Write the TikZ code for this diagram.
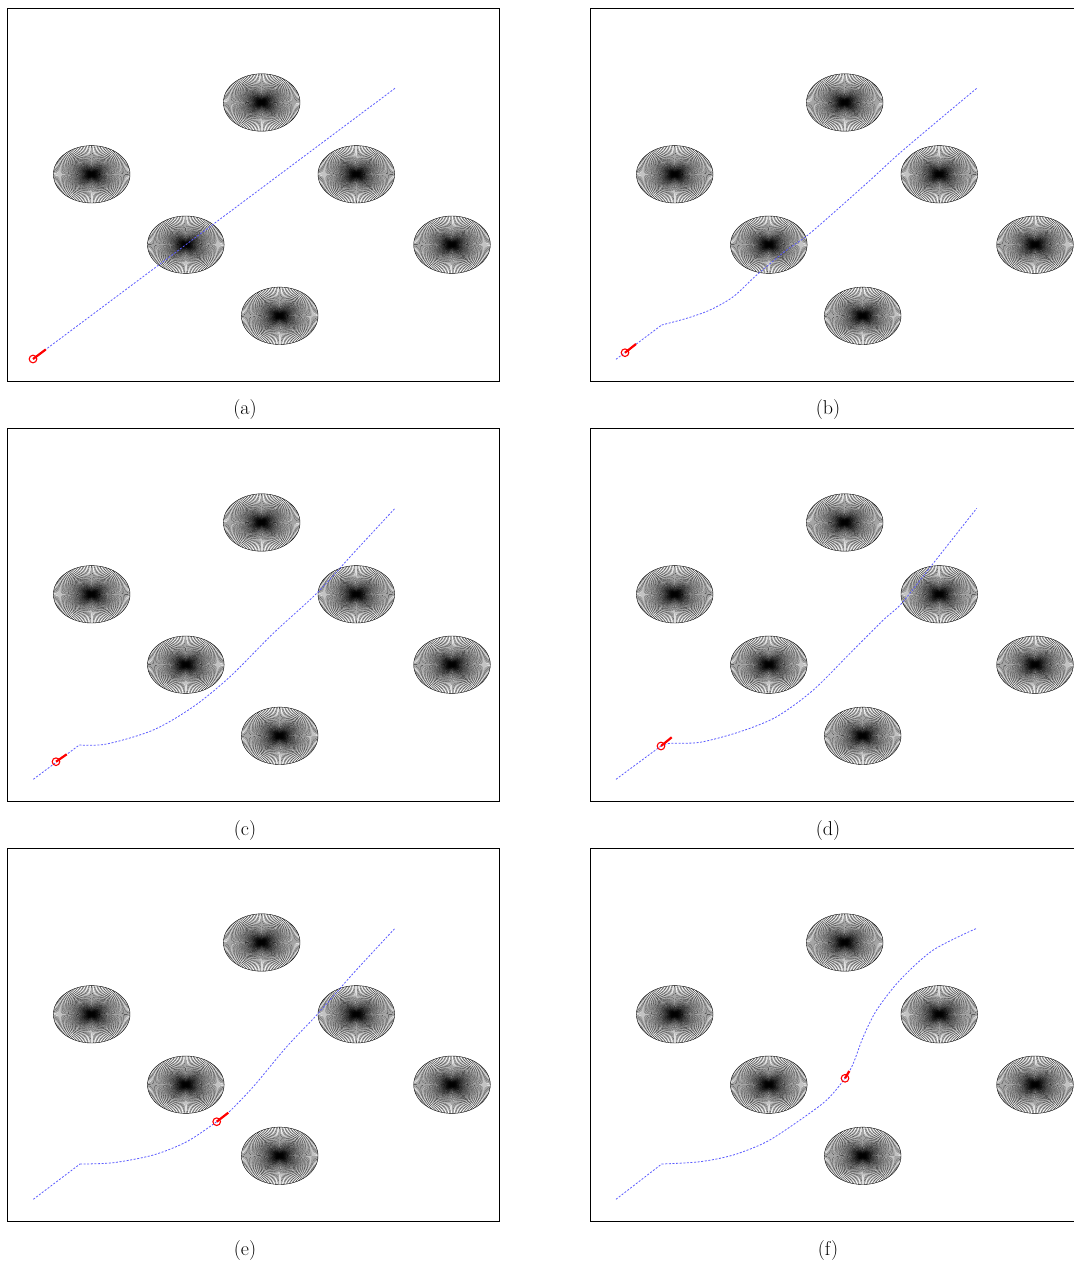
\documentclass[tikz,border=0pt]{standalone}
\usepackage{fontspec}
\tikzset{
  obst/.style={line width=0.28pt, black},
  obstrim/.style={line width=0.4pt, black},
  frame/.style={line width=0.9pt, black},
  traj/.style={draw={rgb,255:red,90;green,90;blue,255}, line width=0.8pt, dash pattern=on 2pt off 1.6pt},
  robot/.style={draw=red, line width=1.1pt},
  heading/.style={draw=red, line width=2.2pt},
  lbl/.style={font=\fontsize{20}{24}\selectfont, inner sep=0pt}
}
\newcommand\mypanel[4]{%
  \begin{scope}[shift={(#1,#2)}]
    \foreach \cx/\cy in {84.7/166.3, 254.7/94.5, 349.3/166.3, 178.8/236.7, 445/236.7, 272.7/307.8} {
      \foreach \k in {0,...,149}
        \draw[obst] (\cx,\cy) -- ++({38.3*cos(0.7+2.4*\k)},{28.7*sin(0.7+2.4*\k)});
      \draw[obstrim] (\cx,\cy) ellipse[x radius=38.3pt, y radius=28.7pt];
    }
    #4
    \draw[frame] (0,0) rectangle (492,373);
  \end{scope}
  \node[lbl] at (#1+238,#2+402) {#3};
}
\newcommand\marker[4]{%
  \draw[heading] (#1,#2) -- (#3,#4);
  \draw[robot] (#1,#2) circle[radius=3.8pt];
}
\begin{document}
\begin{tikzpicture}[x=1pt,y=-1pt]
\useasboundingbox (0,0) rectangle (1074,1267);
\clip (0,0) rectangle (1074,1267);
% (a)
\mypanel{7}{8}{(a)}{%
  \draw[traj] (26,351) -- (388,80.3);
  \marker{26}{351}{38.8}{341.4}
}
% (b)
\mypanel{590}{8}{(b)}{%
  \draw[traj] (26,351.3) -- (71.7,317);
  \draw[traj] plot[smooth, tension=0.5] coordinates {(71.7,317) (96.7,310.3) (120,302) (143.3,288.7) (166.7,267) (196.7,242) (220,225.3) (276.7,175.3) (313.3,142) (386.7,80.3)};
  \marker{35}{344.7}{46}{336}
}
% (c)
\mypanel{7}{428}{(c)}{%
  \draw[traj] (26.3,351.3) -- (72.3,317);
  \draw[traj] plot[smooth, tension=0.5] coordinates {(72.3,317) (99.7,316) (146.3,302) (186.3,278.7) (223,248.7) (266.3,205.3) (309.7,165.3) (346.3,125.3) (388,80.3)};
  \marker{49}{333.7}{59.7}{326.3}
}
% (d)
\mypanel{590}{428}{(d)}{%
  \draw[traj] (26,351.3) -- (71,318);
  \draw[traj] plot[smooth, tension=0.5] coordinates {(71,318) (80,315.3) (110,314.3) (150,303.7) (186.7,288.7) (223.3,262) (260,225.3) (293.3,192) (311.7,175.3) (343.3,135.3) (386.7,80.3)};
  \marker{71}{318}{81.7}{309.3}
}
% (e)
\mypanel{7}{848}{(e)}{%
  \draw[traj] (26.3,351.3) -- (73,316);
  \draw[traj] plot[smooth, tension=0.5] coordinates {(73,316) (106.3,314.7) (146.3,307) (179.7,293.7) (209.7,273.7) (221.3,264.7) (246.3,238.7) (279.7,198.7) (309.7,167) (346.3,125.3) (388,80.3)};
  \marker{209.7}{273.7}{221.3}{264.7}
}
% (f)
\mypanel{590}{848}{(f)}{%
  \draw[traj] (26,351.3) -- (71.7,316);
  \draw[traj] plot[smooth, tension=0.5] coordinates {(71.7,316) (110,313.7) (143.3,307) (176.7,293.7) (210,272) (236.7,252) (255,230.3) (263.3,215.3) (273.3,188.7) (286.7,162) (310,132) (343.3,102) (386.7,80.3)};
  \marker{255}{230.3}{259.3}{223}
}
\end{tikzpicture}
\end{document}
